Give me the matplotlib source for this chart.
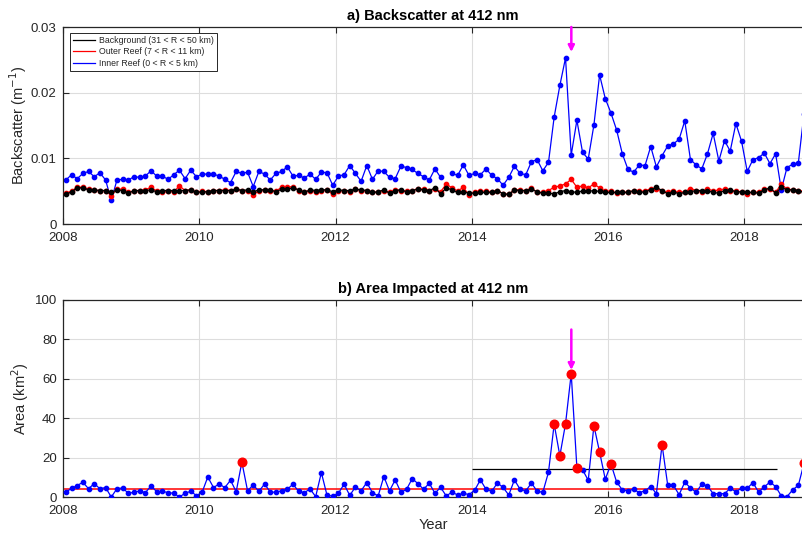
import numpy as np
import matplotlib
matplotlib.use('Agg')
import matplotlib.pyplot as plt
from matplotlib.lines import Line2D

plt.rcParams['font.family'] = ['Liberation Sans', 'DejaVu Sans']

# ---------------- data (monthly, Jan 2008 - Nov 2018) ----------------
n_months = 131
years = 2008 + (np.arange(n_months) + 0.5) / 12.0

background = [
    0.0045, 0.0049, 0.0055, 0.0055, 0.0052, 0.0052, 0.0051, 0.0051, 0.0048, 0.0052,
    0.0051, 0.0047, 0.0051, 0.0051, 0.0051, 0.0052, 0.0049, 0.0051, 0.0051, 0.0051,
    0.0051, 0.0051, 0.0052, 0.0048, 0.0049, 0.0049, 0.0051, 0.0051, 0.0051, 0.0051,
    0.0053, 0.0051, 0.0052, 0.0049, 0.0052, 0.0052, 0.0052, 0.0049, 0.0053, 0.0053,
    0.0055, 0.0052, 0.0048, 0.0052, 0.0051, 0.0052, 0.0052, 0.0049, 0.0052, 0.0051,
    0.0051, 0.0053, 0.0052, 0.0051, 0.0048, 0.0049, 0.0052, 0.0047, 0.0051, 0.0052,
    0.0049, 0.0051, 0.0053, 0.0052, 0.0051, 0.0055, 0.0046, 0.0055, 0.0052, 0.0048,
    0.0049, 0.0047, 0.0047, 0.0048, 0.0048, 0.0048, 0.0051, 0.0046, 0.0045, 0.0052,
    0.0051, 0.0051, 0.0053, 0.0049, 0.0047, 0.0047, 0.0046, 0.0049, 0.0051, 0.0048,
    0.0049, 0.0050, 0.0051, 0.0050, 0.0050, 0.0048, 0.0048, 0.0048, 0.0048, 0.0048,
    0.0051, 0.0048, 0.0049, 0.0052, 0.0056, 0.0051, 0.0046, 0.0049, 0.0046, 0.0048,
    0.0049, 0.0051, 0.0051, 0.0051, 0.0048, 0.0047, 0.0051, 0.0052, 0.0049, 0.0049,
    0.0048, 0.0048, 0.0047, 0.0052, 0.0055, 0.0047, 0.0056, 0.0052, 0.0052, 0.0051,
    0.0048,
]

outer_reef = [
    0.0047, 0.0050, 0.0056, 0.0056, 0.0053, 0.0052, 0.0050, 0.0051, 0.0043, 0.0053,
    0.0053, 0.0048, 0.0050, 0.0051, 0.0052, 0.0056, 0.0050, 0.0048, 0.0050, 0.0049,
    0.0058, 0.0051, 0.0052, 0.0048, 0.0050, 0.0049, 0.0051, 0.0051, 0.0052, 0.0051,
    0.0053, 0.0051, 0.0050, 0.0044, 0.0051, 0.0052, 0.0051, 0.0050, 0.0056, 0.0056,
    0.0057, 0.0051, 0.0049, 0.0051, 0.0049, 0.0051, 0.0052, 0.0045, 0.0051, 0.0050,
    0.0049, 0.0053, 0.0051, 0.0050, 0.0048, 0.0049, 0.0051, 0.0048, 0.0052, 0.0051,
    0.0050, 0.0051, 0.0054, 0.0053, 0.0051, 0.0053, 0.0049, 0.0061, 0.0055, 0.0050,
    0.0056, 0.0044, 0.0049, 0.0050, 0.0050, 0.0049, 0.0051, 0.0046, 0.0045, 0.0052,
    0.0052, 0.0050, 0.0055, 0.0048, 0.0048, 0.0051, 0.0056, 0.0058, 0.0061, 0.0068,
    0.0056, 0.0058, 0.0055, 0.0061, 0.0055, 0.0050, 0.0050, 0.0047, 0.0048, 0.0049,
    0.0050, 0.0050, 0.0050, 0.0054, 0.0054, 0.0050, 0.0048, 0.0050, 0.0048, 0.0049,
    0.0054, 0.0051, 0.0049, 0.0054, 0.0050, 0.0052, 0.0053, 0.0051, 0.0050, 0.0049,
    0.0046, 0.0049, 0.0048, 0.0053, 0.0053, 0.0048, 0.0061, 0.0053, 0.0052, 0.0051,
    0.0050,
]

inner_reef = [
    0.0067, 0.0075, 0.0069, 0.0077, 0.0080, 0.0072, 0.0078, 0.0067, 0.0036, 0.0067,
    0.0068, 0.0067, 0.0072, 0.0071, 0.0073, 0.0081, 0.0073, 0.0073, 0.0068, 0.0075,
    0.0082, 0.0069, 0.0082, 0.0072, 0.0076, 0.0076, 0.0076, 0.0073, 0.0068, 0.0063,
    0.0080, 0.0077, 0.0079, 0.0057, 0.0080, 0.0076, 0.0067, 0.0077, 0.0080, 0.0087,
    0.0073, 0.0074, 0.0070, 0.0076, 0.0068, 0.0079, 0.0078, 0.0059, 0.0073, 0.0075,
    0.0089, 0.0077, 0.0065, 0.0089, 0.0068, 0.0081, 0.0080, 0.0071, 0.0069, 0.0088,
    0.0086, 0.0083, 0.0077, 0.0072, 0.0067, 0.0084, 0.0071, np.nan, 0.0077, 0.0074,
    0.0090, 0.0074, 0.0077, 0.0075, 0.0084, 0.0074, 0.0069, 0.0059, 0.0071, 0.0088,
    0.0077, 0.0075, 0.0095, 0.0098, 0.0081, 0.0094, 0.0163, 0.0211, 0.0253, 0.0105,
    0.0158, 0.0109, 0.0099, 0.0151, 0.0227, 0.0191, 0.0169, 0.0143, 0.0107, 0.0083,
    0.0079, 0.0090, 0.0089, 0.0118, 0.0087, 0.0104, 0.0119, 0.0122, 0.0129, 0.0157,
    0.0098, 0.0090, 0.0084, 0.0107, 0.0138, 0.0096, 0.0127, 0.0111, 0.0153, 0.0126,
    0.0080, 0.0098, 0.0101, 0.0108, 0.0092, 0.0107, 0.0052, 0.0086, 0.0091, 0.0093,
    0.0168,
]

area_km2 = [
    2.4, 4.4, 5.8, 7.5, 4.2, 6.8, 4.2, 4.8, 0.0, 4.2,
    4.6, 1.9, 2.4, 3.1, 2.2, 5.6, 2.7, 2.9, 2.2, 1.9,
    0.0, 1.9, 2.9, 0.7, 2.4, 10.2, 4.8, 6.6, 4.8, 8.5,
    2.7, 17.7, 3.2, 6.1, 2.9, 6.6, 2.5, 2.4, 3.2, 3.9,
    6.5, 2.9, 2.2, 4.1, 0.2, 12.4, 0.8, 0.5, 1.9, 6.5,
    0.8, 5.1, 3.2, 7.3, 2.2, 0.5, 10.4, 3.1, 8.7, 2.4,
    3.9, 9.3, 6.8, 3.9, 7.0, 1.9, 4.9, 0.5, 2.5, 1.0,
    1.9, 1.2, 3.4, 8.7, 3.9, 2.9, 7.1, 4.9, 1.0, 8.7,
    3.9, 3.1, 7.1, 2.9, 2.4, 12.6, 37.0, 20.9, 37.2, 62.6,
    14.9, 13.8, 8.5, 36.2, 22.8, 9.0, 16.8, 7.6, 3.6, 3.2,
    3.9, 2.2, 3.2, 5.3, 1.7, 26.5, 5.9, 5.9, 1.2, 7.5,
    4.6, 2.4, 6.5, 5.6, 1.7, 1.7, 1.7, 4.4, 2.7, 4.4,
    4.4, 7.3, 2.5, 5.1, 7.6, 5.3, 0.5, 0.2, 3.6, 5.9,
    17.1,
]

baseline_mean = 3.9          # red horizontal line (2008 - mid 2018)
impact_threshold = 14.1      # black horizontal line (2014 - mid 2018)
baseline_span = (2008.0, 2018.48)
threshold_span = (2014.0, 2018.48)
event_year = 2015.46         # magenta arrow
arrow_a = (0.0300, 0.0262)
arrow_b = (85.0, 64.5)

legend_labels = ['Background (31 < R < 50 km)',
                 'Outer Reef (7 < R < 11 km)',
                 'Inner Reef (0 < R < 5 km)']
xticks = [2008, 2010, 2012, 2014, 2016, 2018]

# ---------------- figure ----------------
W, H = 803, 533
fig = plt.figure(figsize=(W / 100, H / 100), dpi=100)
ax1 = fig.add_axes([63 / W, 1 - 224 / H, 740 / W, 197 / H])
ax2 = fig.add_axes([63 / W, 1 - 497 / H, 740 / W, 197 / H])

dark = '#262626'
for ax in (ax1, ax2):
    ax.set_xlim(2008, 2018.86)
    ax.set_xticks(xticks)
    ax.grid(True, color='#dddddd', linewidth=0.8)
    ax.set_axisbelow(True)
    for s in ('left', 'top', 'bottom'):
        ax.spines[s].set_color(dark)
        ax.spines[s].set_linewidth(0.9)
    ax.spines['right'].set_visible(False)
    ax.tick_params(direction='in', length=4, width=0.8, color=dark,
                   labelcolor=dark, labelsize=9.5, top=True, right=False)
    ax.tick_params(axis='x', pad=5.5)
    ax.tick_params(axis='y', pad=4.5)

bg = np.array(background)
orf = np.array(outer_reef)
inr = np.array(inner_reef)

ax1.plot(years, inr, '-o', color='#0000ff', lw=0.9, ms=3.1, zorder=2)
ax1.plot(years, orf, '-o', color='#ff0000', lw=0.9, ms=3.1, zorder=3)
ax1.plot(years, bg, '-o', color='#000000', lw=0.9, ms=3.1, zorder=4)
ax1.set_ylim(0, 0.03)
ax1.set_yticks([0, 0.01, 0.02, 0.03])
ax1.set_yticklabels(['0', '0.01', '0.02', '0.03'])
ax1.set_ylabel('Backscatter (m$^{-1}$)', fontsize=10.5, color=dark)
ax1.yaxis.set_label_coords(-0.046, 0.5)
ax1.set_title('a) Backscatter at 412 nm', fontsize=10.5, fontweight='bold',
              color='#000000', pad=5)
ax1.annotate('', xy=(event_year, arrow_a[1]), xytext=(event_year, arrow_a[0]),
             arrowprops=dict(arrowstyle='-|>', color='#ff00ff', lw=1.8,
                             mutation_scale=9, shrinkA=0, shrinkB=0),
             annotation_clip=False, zorder=6)

handles = [Line2D([], [], color=c, lw=0.9) for c in ('#000000', '#ff0000', '#0000ff')]
leg = ax1.legend(handles, legend_labels, loc='upper left',
                 bbox_to_anchor=(0.009, 0.97), fontsize=6.3, frameon=True,
                 fancybox=False, edgecolor=dark, framealpha=1,
                 handlelength=2.6, handletextpad=0.4, borderpad=0.35,
                 labelspacing=0.28, borderaxespad=0)
leg.get_frame().set_linewidth(0.7)
for t in leg.get_texts():
    t.set_color(dark)

# panel b
area = np.array(area_km2)
ax2.hlines(baseline_mean, *baseline_span, color='#ff0000', lw=1.1, zorder=2)
ax2.hlines(impact_threshold, *threshold_span, color='#000000', lw=0.9, zorder=2)
ax2.plot(years, area, '-o', color='#0000ff', lw=0.9, ms=3.1, zorder=3)
hi = area > impact_threshold
ax2.plot(years[hi], area[hi], 'o', color='#ff0000', ms=6.2, zorder=4, clip_on=True)
ax2.set_ylim(0, 100)
ax2.set_yticks([0, 20, 40, 60, 80, 100])
ax2.set_ylabel('Area (km$^{2}$)', fontsize=10.5, color=dark)
ax2.yaxis.set_label_coords(-0.043, 0.5)
ax2.set_xlabel('Year', fontsize=10.5, color=dark, labelpad=1)
ax2.set_title('b) Area Impacted at 412 nm', fontsize=10.5, fontweight='bold',
              color='#000000', pad=5)
ax2.annotate('', xy=(event_year, arrow_b[1]), xytext=(event_year, arrow_b[0]),
             arrowprops=dict(arrowstyle='-|>', color='#ff00ff', lw=1.8,
                             mutation_scale=9, shrinkA=0, shrinkB=0),
             annotation_clip=False, zorder=6)

fig.savefig('out.png', dpi=100)
